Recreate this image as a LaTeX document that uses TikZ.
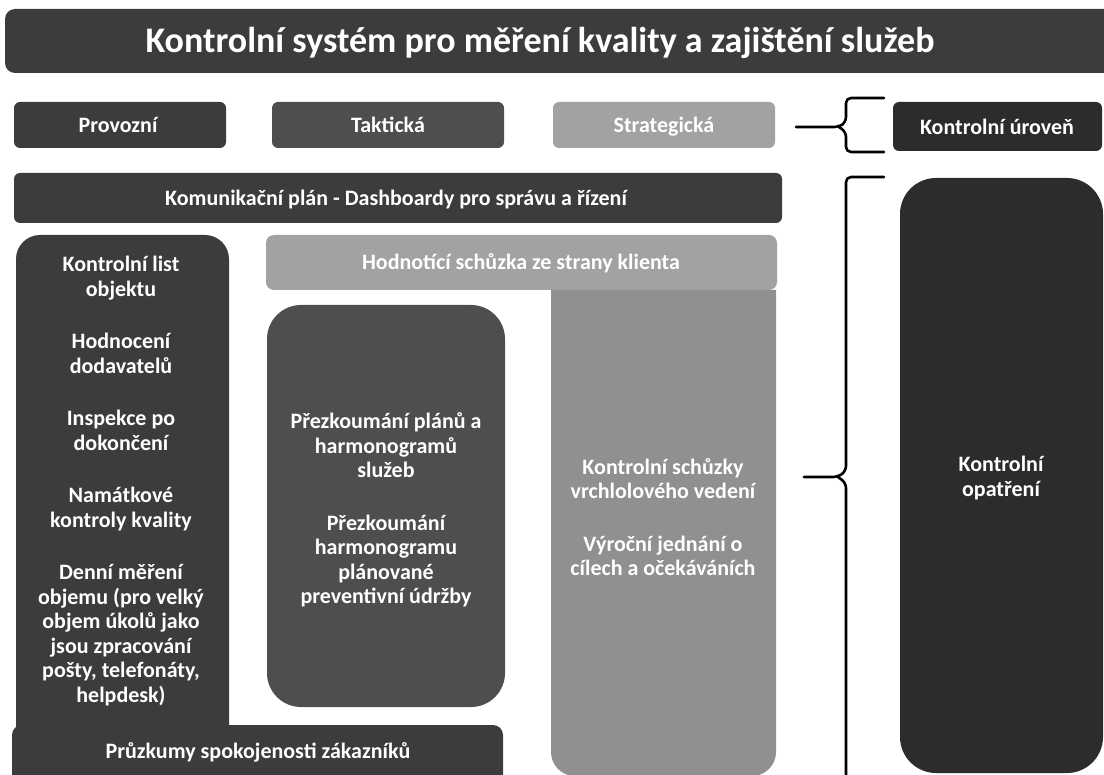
\documentclass[tikz,border=0pt]{standalone}
\usepackage{fontspec}
\setmainfont{Carlito}
\definecolor{darkbox}{HTML}{3C3C3C}
\definecolor{midbox}{HTML}{4E4E4E}
\definecolor{lightbox}{HTML}{A2A2A2}
\definecolor{colbox}{HTML}{909090}
\definecolor{blackbox}{HTML}{2C2C2C}
\begin{document}
\begin{tikzpicture}[x=0.5pt, y=-0.5pt, line join=round, line cap=round,
  font=\bfseries\fontsize{11}{12.25}\selectfont,
  txt/.style={text=white, align=center, inner sep=0pt},
  lbl/.style={txt, text height=7pt, text depth=0pt},
  brc/.style={draw=black, line width=1.3pt, rounded corners=2.5pt}]
\useasboundingbox (0,0) rectangle (1104,775);
% title bar
\fill[darkbox, rounded corners=5pt] (5,9) rectangle (1115,73);
\node[txt, font=\bfseries\fontsize{18}{21}\selectfont, text height=11.6pt, text depth=0pt] (title) at (540,41) {Kontrolní systém pro měření kvality a zajištění služeb};
% control levels
\fill[darkbox, rounded corners=3pt] (14,102) rectangle (226,148);
\fill[midbox, rounded corners=3pt] (272,102) rectangle (504,148);
\fill[lightbox, rounded corners=3pt] (553,102) rectangle (775,148);
\fill[blackbox, rounded corners=3pt] (893,102) rectangle (1102,151);
\node[lbl] (provozni) at (118,126) {Provozní};
\node[lbl] (takticka) at (388,126) {Taktická};
\node[lbl] (strategicka) at (664,126) {Strategická};
\node[lbl] (uroven) at (997,128) {Kontrolní úroveň};
\draw[brc] (884,98) -- (846,98) -- (846,122) -- (839,127) -- (796,127);
\draw[brc] (839,127) -- (846,132) -- (846,152) -- (884,152);
% communication plan
\fill[darkbox, rounded corners=3pt] (14,173) rectangle (782,223);
\node[lbl] (plan) at (396,199) {Komunikační plán - Dashboardy pro správu a řízení};
% operational column
\fill[darkbox] (16,740) [rounded corners=12pt] -- (16,235) -- (229,235) [sharp corners] -- (229,740) -- cycle;
\node[txt] (provlist) at (121,481) {Kontrolní list\\objektu\\[14pt]Hodnocení\\dodavatelů\\[14pt]Inspekce po\\dokončení\\[14pt]Namátkové\\kontroly kvality\\[14pt]Denní měření\\objemu (pro velký\\objem úkolů jako\\jsou zpracování\\pošty, telefonáty,\\helpdesk)};
% client meeting and strategic column
\fill[lightbox, rounded corners=4pt] (266,235) rectangle (777,290);
\node[lbl] (klient) at (521,263) {Hodnotící schůzka ze strany klienta};
\fill[colbox] (551,290) [rounded corners=12pt] -- (551,776) -- (776,776) [sharp corners] -- (776,290) -- cycle;
\node[txt] (strlist) at (663,517) {Kontrolní schůzky\\vrchlolového vedení\\[14pt]Výroční jednání o\\cílech a očekáváních};
% tactical box
\fill[midbox, rounded corners=17pt] (267,305) rectangle (505,707);
\node[txt] (taklist) at (386,510) {Přezkoumání plánů a\\harmonogramů\\služeb\\[14pt]Přezkoumání\\harmonogramu\\plánované\\preventivní údržby};
% customer surveys
\fill[darkbox] (12,790) [rounded corners=5pt] -- (12,725) -- (503,725) -- (503,790) -- cycle;
\node[lbl] (pruzkumy) at (258,751) {Průzkumy spokojenosti zákazníků};
% control measures
\fill[blackbox, rounded corners=18pt] (900,178) rectangle (1103,773);
\node[txt] (opatreni) at (1001,478) {Kontrolní\\opatření};
\draw[brc] (884,177) -- (846,177) -- (846,471) -- (838,477) -- (804,477);
\draw[brc] (838,477) -- (846,483) -- (846,785);
\end{tikzpicture}
\end{document}
